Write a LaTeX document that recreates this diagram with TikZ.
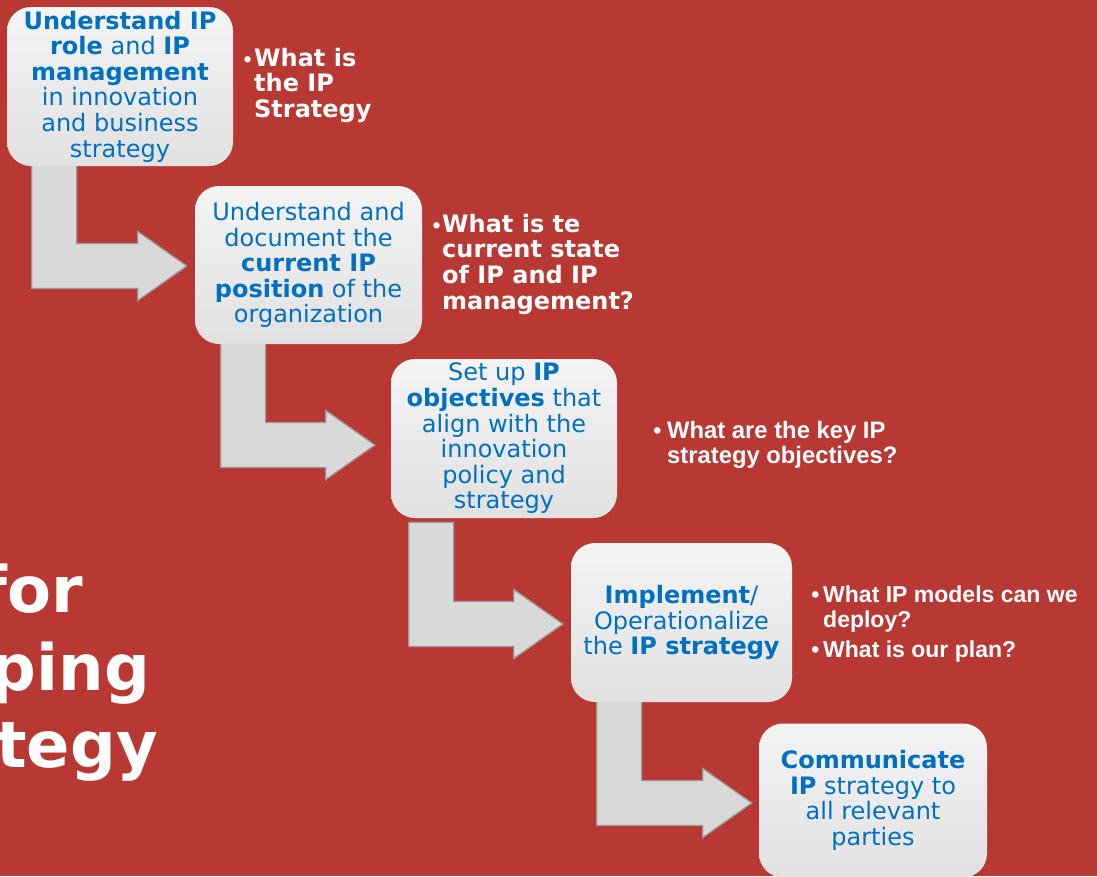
\documentclass[tikz,border=0pt]{standalone}
\usepackage{fontspec}
\setmainfont{DejaVu Sans}
\newfontfamily\arialfont{Liberation Sans}
\usetikzlibrary{calc}
\definecolor{bgred}{HTML}{B83934}
\definecolor{ipblue}{HTML}{0070C0}
\definecolor{arrfill}{HTML}{D9D9D9}
\definecolor{arrline}{HTML}{999999}
\definecolor{boxtop}{HTML}{F4F4F4}
\definecolor{boxbot}{HTML}{E1E1E1}
\pgfdeclarelayer{bg}
\pgfdeclarelayer{arrows}
\pgfsetlayers{bg,arrows,main}
\tikzset{
 stepbox/.style={rounded corners=24pt, top color=boxtop, bottom color=boxbot, draw=none, text=ipblue, align=center, inner sep=0pt, font=\fontsize{24}{25.6}\selectfont},
 qtext/.style={text=white, inner sep=0pt, font=\bfseries\fontsize{24}{25.6}\selectfont},
 qdot/.style={text=white, inner sep=0pt, font=\bfseries\fontsize{18}{20}\selectfont, anchor=base},
 qtextb/.style={text=white, inner sep=0pt, font=\arialfont\bfseries\fontsize{23}{25}\selectfont},
 bentarrow/.style={fill=arrfill, draw=arrline, line width=1.3pt, line join=miter},
 titletext/.style={text=white, inner sep=0pt, font=\bfseries\fontsize{64}{77}\selectfont, anchor=base east},
}
% from, to, dx, dy, tip dx, tip dy
\newcommand\bentarr[6]{%
 \coordinate (#1s) at ($(#1.south west)+(#3,#4)$);
 \coordinate (#1r) at ($(#1s)+(45,0)$);
 \coordinate (#1t) at ($(#2.west)+(#5,#6)$);
 \coordinate (#1u) at ($(#1t)+(0,-22.5)$);
 \coordinate (#1l) at ($(#1t)+(0,22.5)$);
 \draw[bentarrow] (#1s) -- (#1r) -- (#1r |- #1u) -- ($(#1t)+(-49,-22.5)$) -- ($(#1t)+(-49,-34.5)$) -- (#1t) -- ($(#1t)+(-49,34.5)$) -- ($(#1t)+(-49,22.5)$) -- (#1s |- #1l) -- cycle;
}
\begin{document}
\begin{tikzpicture}[x=1pt,y=-1pt]
\useasboundingbox (0,0) rectangle (1097,876);
\clip (0,0) rectangle (1097,876);
\begin{pgfonlayer}{bg}
\fill[bgred] (0,0) rectangle (1097,876);
\end{pgfonlayer}

% title (partly cut at left)
\node[titletext] (t1) at (83,612) {for};
\node[titletext] (t2) at (150,690) {ping};
\node[titletext] (t3) at (158,767) {tegy};

% step boxes
\node[stepbox, minimum width=226pt, minimum height=159pt] (b1) at (120,86.5)
 {\textbf{Understand IP}\\\textbf{role} and \textbf{IP}\\\textbf{management}\\in innovation\\and business\\strategy};
\node[stepbox, minimum width=227pt, minimum height=158pt] (b2) at (308.5,265)
 {Understand and\\document the\\\textbf{current IP}\\\textbf{position} of the\\organization};
\node[stepbox, minimum width=226pt, minimum height=159pt] (b3) at (504,438.5)
 {Set up \textbf{IP}\\\textbf{objectives} that\\align with the\\innovation\\policy and\\strategy};
\node[stepbox, minimum width=221pt, minimum height=159pt] (b4) at (681.5,622.5)
 {\textbf{Implement}/\\Operationalize\\the \textbf{IP strategy}};
\node[stepbox, minimum width=228pt, minimum height=154pt] (b5) at (873,800.5)
 {\textbf{Communicate}\\\textbf{IP} strategy to\\all relevant\\parties};

% bent arrows
\begin{pgfonlayer}{arrows}
\bentarr{b1}{b2}{25}{-1}{-8}{1}
\bentarr{b2}{b3}{26}{-1}{-16}{6.5}
\bentarr{b3}{b4}{18}{4}{-8}{1.5}
\bentarr{b4}{b5}{26}{-2}{-7}{2.5}
\end{pgfonlayer}

% questions
\node[qdot] (q1d) at (247.5,66) {•};
\node[qtext, anchor=base west] (q1) at (254,66)
 {\begin{tabular}[t]{@{}l@{}}What is\\the IP\\Strategy\end{tabular}};
\node[qdot] (q2d) at (436.5,232) {•};
\node[qtext, anchor=base west] (q2) at (442,232)
 {\begin{tabular}[t]{@{}l@{}}What is te\\current state\\of IP and IP\\management?\end{tabular}};
\node[qtextb, anchor=base] (q3d) at (657.5,438) {•};
\node[qtextb, anchor=base west, font=\arialfont\bfseries\fontsize{23.8}{25}\selectfont] (q3) at (667,438)
 {\begin{tabular}[t]{@{}l@{}}What are the key IP\\strategy objectives?\end{tabular}};
\node[qtextb, anchor=base] (q4d) at (815.5,602) {•};
\node[qtextb, anchor=base west] (q4) at (823,602)
 {\begin{tabular}[t]{@{}l@{}}What IP models can we\\deploy?\end{tabular}};
\node[qtextb, anchor=base] (q5d) at (815.5,657) {•};
\node[qtextb, anchor=base west] (q5) at (823,657) {What is our plan?};
\end{tikzpicture}
\end{document}
